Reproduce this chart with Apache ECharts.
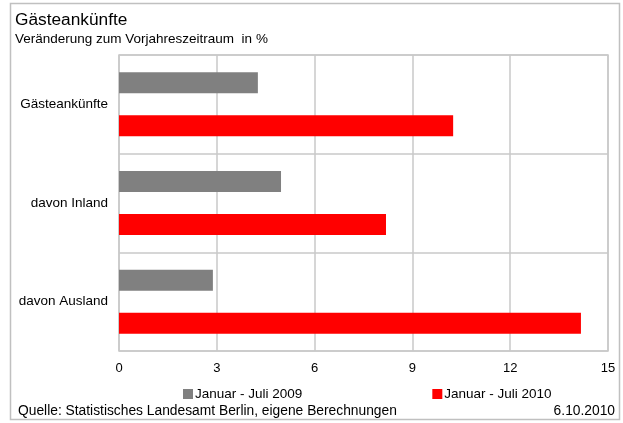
<!DOCTYPE html>
<html>
<head>
<meta charset="utf-8">
<script src="https://cdn.jsdelivr.net/npm/echarts@6/dist/echarts.min.js"></script>
<style>
  html, body { margin: 0; padding: 0; background: #fff; }
  #chart { width: 623px; height: 423px; }
</style>
</head>
<body>
<div id="chart"></div>
<script>
// Kategorien und Werte (Veränderung in %)
var categories = ['Gästeankünfte', 'davon Inland', 'davon Ausland']
var series2009 = [4.26, 4.97, 2.88]
var series2010 = [10.25, 8.19, 14.17]
var xTicks = [0, 3, 6, 9, 12, 15]

var myChart = echarts.init(document.getElementById('chart'))
var font = 'Liberation Sans, Arial, sans-serif'

myChart.setOption({
  animation: false,
  textStyle: { fontFamily: font },
  title: {
    text: 'Gästeankünfte',
    subtext: 'Veränderung zum Vorjahreszeitraum  in %',
    left: 10,
    top: 7,
    itemGap: 3,
    textStyle: { fontSize: 17.3, fontWeight: 'normal', color: '#000', fontFamily: font },
    subtextStyle: { fontSize: 13.5, color: '#000', fontFamily: font }
  },
  legend: {
    left: 178,
    top: 382,
    itemGap: 130,
    itemWidth: 10,
    itemHeight: 10,
    icon: 'rect',
    textStyle: { fontSize: 13.5, color: '#000', padding: [0, 0, 0, -3] },
    data: ['Januar - Juli 2009', 'Januar - Juli 2010']
  },
  grid: {
    left: 119,
    right: 15,
    top: 55,
    bottom: 72,
    show: true,
    borderColor: '#c8c8c8',
    borderWidth: 1.5
  },
  xAxis: {
    type: 'value',
    min: xTicks[0],
    max: xTicks[xTicks.length - 1],
    interval: 3,
    axisLine: { show: false },
    axisTick: { show: false },
    axisLabel: { fontSize: 13, color: '#000', margin: 11 },
    splitLine: { lineStyle: { color: '#c8c8c8', width: 1.5 } }
  },
  yAxis: {
    type: 'category',
    data: categories,
    inverse: true,
    axisLine: { show: false },
    axisTick: { show: false },
    axisLabel: { fontSize: 13.5, color: '#000', margin: 11 },
    splitLine: { show: true, lineStyle: { color: '#c8c8c8', width: 1.5 } }
  },
  series: [
    {
      name: 'Januar - Juli 2009',
      type: 'bar',
      barWidth: 21,
      barGap: '105%',
      itemStyle: { color: '#808080' },
      data: series2009
    },
    {
      name: 'Januar - Juli 2010',
      type: 'bar',
      barWidth: 21,
      barGap: '105%',
      itemStyle: { color: '#ff0000' },
      data: series2010
    }
  ],
  graphic: [
    {
      type: 'rect',
      shape: { x: 10.5, y: 3.5, width: 609, height: 416 },
      style: { fill: 'none', stroke: '#c0c0c0', lineWidth: 1.5 },
      z: -1
    },
    {
      type: 'text',
      left: 18,
      top: 404,
      style: { text: 'Quelle: Statistisches Landesamt Berlin, eigene Berechnungen', fontSize: 13.8, fill: '#000', fontFamily: font }
    },
    {
      type: 'text',
      right: 8,
      top: 404,
      style: { text: '6.10.2010', fontSize: 13.8, fill: '#000', fontFamily: font }
    }
  ]
})
</script>
</body>
</html>
